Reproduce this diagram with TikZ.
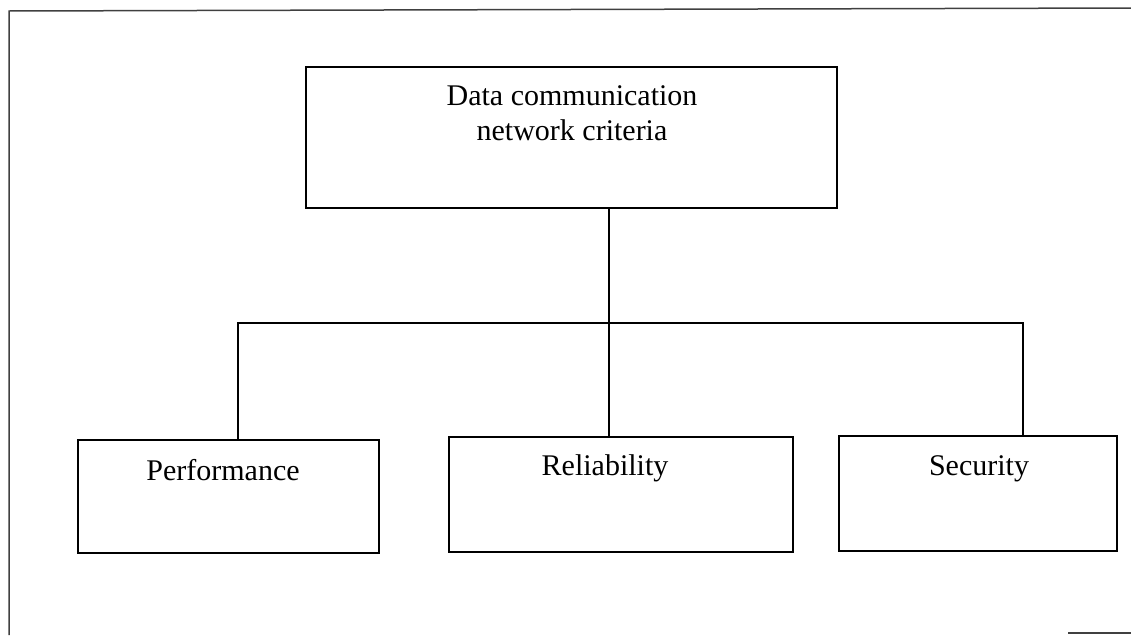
\documentclass[tikz,border=0pt]{standalone}
\usepackage{fontspec}
\setmainfont{Liberation Serif}
\begin{document}
\begin{tikzpicture}[x=1pt,y=-1pt,
  box/.style={draw, line width=1.3pt, rectangle, inner sep=0pt},
  label/.style={inner sep=0pt, anchor=base, align=center,
    font=\fontsize{30}{35}\selectfont},
  link/.style={line width=1.3pt},
  frame/.style={line width=1.5pt, draw=black!75}]
\useasboundingbox (0,0) rectangle (1131,635);

% outer frame
\draw[frame] (9,635) -- (9,11) -- (1131,8);
\draw[frame] (1068,633) -- (1131,633);

% boxes
\node[box, minimum width=531pt, minimum height=141pt] (top) at (571.5,137.5) {};
\node[box, minimum width=301pt, minimum height=113pt] (perf) at (228.5,496.5) {};
\node[box, minimum width=344pt, minimum height=115pt] (rel) at (621,494.5) {};
\node[box, minimum width=278pt, minimum height=115pt] (sec) at (978,493.5) {};

% labels (a multi-line label sits on the baseline of its last line)
\node[label] (toptext) at (572,140) {Data communication\\network criteria};
\node[label] (perftext) at (223,480) {Performance};
\node[label] (reltext) at (605,475) {Reliability};
\node[label] (sectext) at (979,475) {Security};

% tree connectors
\coordinate (jl) at (238,323);
\coordinate (jm) at (609,323);
\coordinate (jr) at (1023,323);
\draw[link] (top.south -| jm) -- (rel.north -| jm);
\draw[link] (perf.north -| jl) -- (jl) -- (jr) -- (sec.north -| jr);
\end{tikzpicture}
\end{document}
